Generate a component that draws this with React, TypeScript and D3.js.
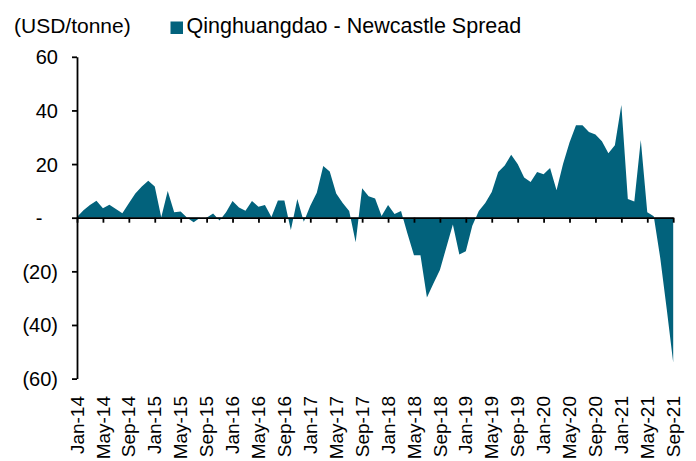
import React, { useEffect, useRef } from 'react';
import * as d3 from 'd3';

// monthly spread, USD/tonne (Jan-14 .. Sep-21)
const spread2014 = [0.3, 2.8, 4.7, 6.3, 3.5, 4.8, 3.2, 1.7, 5.4, 9.0, 11.6, 13.8];
const spread2015 = [11.6, 0.2, 10.0, 2.0, 2.3, 0, -1.7, 0, 0, 1.6, -1.0, 2.0];
const spread2016 = [6.2, 3.8, 2.6, 6.2, 4.1, 4.7, 0.3, 6.4, 6.4, -4.6, 7.0, -1.5];
const spread2017 = [4.5, 9.3, 19.3, 17.2, 9.0, 5.5, 2.5, -9.2, 11.0, 8.0, 7.2, 0.6];
const spread2018 = [4.7, 1.4, 2.5, -6.0, -14.0, -14.0, -29.8, -24.5, -19.5, -11.0, -2.5, -13.7];
const spread2019 = [-12.5, -3.0, 2.5, 5.5, 9.6, 17.0, 19.5, 23.5, 20.0, 15.0, 13.3, 17.0];
const spread2020 = [16.2, 18.5, 10.2, 20.0, 28.0, 34.5, 34.5, 32.0, 31.0, 28.5, 24.0, 27.0];
const spread2021 = [42.0, 7.0, 6.0, 29.0, 2.0, 0.5, -15.0, -34.0, -54.0];

const tickLabels = [
    'Jan-14', 'May-14', 'Sep-14', 'Jan-15', 'May-15', 'Sep-15',
    'Jan-16', 'May-16', 'Sep-16', 'Jan-17', 'May-17', 'Sep-17',
    'Jan-18', 'May-18', 'Sep-18', 'Jan-19', 'May-19', 'Sep-19',
    'Jan-20', 'May-20', 'Sep-20', 'Jan-21', 'May-21', 'Sep-21'
];
const yTicks = [-60, -40, -20, 0, 20, 40, 60];

const seriesName = 'Qinghuangdao - Newcastle Spread';
const unitLabel = '(USD/tonne)';

function SpreadChart({ width = 696, height = 461 }) {
    const ref = useRef<SVGSVGElement>(null);

    useEffect(() => {
        const svg = d3.select(ref.current);
        svg.selectAll('*').remove();

        const values = [
            ...spread2014, ...spread2015, ...spread2016, ...spread2017,
            ...spread2018, ...spread2019, ...spread2020, ...spread2021
        ];
        const fill = '#02627c';
        const font = '"Liberation Sans", Arial, sans-serif';

        const x = d3.scaleLinear()
            .domain([0, values.length - 1])
            .range([77, 673.2]);

        const y = d3.scaleLinear()
            .domain([-60, 60])
            .range([378.6, 56.8]);

        const area = d3.area<number>()
            .x((d, i) => x(i))
            .y0(y(0))
            .y1(d => y(d));

        svg.append('path')
            .datum(values)
            .attr('d', area)
            .attr('fill', fill);

        // y axis
        const yAxis = svg.append('g')
            .attr('transform', `translate(${x(0)},0)`)
            .call(d3.axisLeft(y)
                .tickValues(yTicks)
                .tickSize(5)
                .tickSizeOuter(0)
                .tickPadding(14)
                .tickFormat(d => {
                    const v = +d;
                    if (v === 0) return '-';
                    return v < 0 ? `(${-v})` : `${v}`;
                }));

        yAxis.selectAll('text')
            .attr('font-family', font)
            .attr('font-size', 20)
            .attr('fill', '#000')
            .attr('dy', '0.35em');
        yAxis.selectAll('text')
            .filter(d => +d === 0)
            .attr('text-anchor', 'middle')
            .attr('x', -38);

        // x axis at zero
        const xAxis = svg.append('g')
            .attr('transform', `translate(0,${y(0)})`)
            .call(d3.axisBottom(x)
                .tickValues(d3.range(0, values.length, 4))
                .tickSize(5)
                .tickSizeOuter(0)
                .tickFormat(() => ''));

        [yAxis, xAxis].forEach(ax => {
            ax.select('.domain').attr('stroke', '#000').attr('stroke-width', 1.8);
            ax.selectAll('.tick line').attr('stroke', '#000').attr('stroke-width', 1.8);
        });

        // month labels at the bottom
        svg.append('g')
            .selectAll('text')
            .data(tickLabels)
            .enter().append('text')
            .attr('transform', (d, i) => `translate(${x(i * 4)},396) rotate(-90)`)
            .attr('text-anchor', 'end')
            .attr('dy', '0.35em')
            .attr('font-family', font)
            .attr('font-size', 19)
            .attr('fill', '#000')
            .text(d => d);

        // header
        svg.append('text')
            .attr('x', 14)
            .attr('y', 33)
            .attr('font-family', font)
            .attr('font-size', 21)
            .attr('fill', '#000')
            .text(unitLabel);

        svg.append('rect')
            .attr('x', 170.5)
            .attr('y', 21.5)
            .attr('width', 12.5)
            .attr('height', 12.5)
            .attr('fill', fill);

        svg.append('text')
            .attr('x', 186.5)
            .attr('y', 33)
            .attr('font-family', font)
            .attr('font-size', 21.5)
            .attr('fill', '#000')
            .text(seriesName);
    }, [width, height]);

    return (
        <svg
            ref={ref}
            width={width}
            height={height}
            style={{ position: 'absolute', left: 0, top: 0, background: '#fff' }}
        />
    );
}

export default function App() {
    return <SpreadChart />;
}
